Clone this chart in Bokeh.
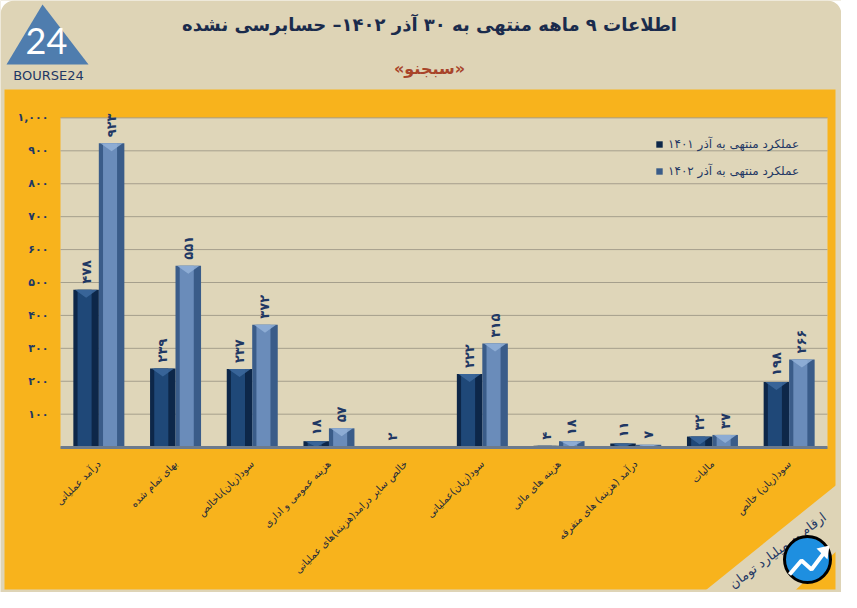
import math
from bokeh.plotting import figure
from bokeh.models import (Range1d, FixedTicker, ColumnDataSource, LabelSet, Legend, LegendItem)
from bokeh.core.properties import value
from bokeh.embed import file_html
from bokeh.resources import INLINE

# ---------------- data ----------------
categories = ["درآمد عملیاتی", "بهای تمام شده", "سود(زیان)ناخالص", "هزینه عمومی و اداری",
              "خالص سایر درامد(هزینه)های عملیاتی", "سود(زیان)عملیاتی", "هزینه های مالی",
              "درآمد (هزینه) های متفرقه", "مالیات", "سود(زیان) خالص"]
v1401 = [478, 239, 237, 18, 2, 222, 4, 11, 32, 198]
v1402 = [923, 551, 372, 57, 0, 315, 18, 7, 37, 266]
lbl1401 = ["۴۷۸", "۲۳۹", "۲۳۷", "۱۸", "۲", "۲۲۲", "۴", "۱۱", "۳۲", "۱۹۸"]
lbl1402 = ["۹۲۳", "۵۵۱", "۳۷۲", "۵۷", "", "۳۱۵", "۱۸", "۷", "۳۷", "۲۶۶"]
yticks = [100, 200, 300, 400, 500, 600, 700, 800, 900, 1000]
ytick_labels = ["۱۰۰", "۲۰۰", "۳۰۰", "۴۰۰", "۵۰۰", "۶۰۰", "۷۰۰", "۸۰۰", "۹۰۰", "۱,۰۰۰"]
series_names = ["عملکرد منتهی به آذر ۱۴۰۱", "عملکرد منتهی به آذر ۱۴۰۲"]
title_text = "اطلاعات ۹ ماهه منتهی به ۳۰ آذر ۱۴۰۲– حسابرسی نشده"
subtitle_text = "«سبجنو»"
unit_text = "ارقام به میلیارد تومان"

# ---------------- geometry / style ----------------
W, H = 841, 592
PL, PR = 60, 827          # plot-area left/right (canvas px)
PY0, PY1 = 446.6, 117.4   # canvas px of y=0 and y=1000
CW = (PR - PL) / len(categories)
SC = (PY0 - PY1) / 1000.0

BEIGE = "#DED4B6"
PLOT_BG = "#DFD6B9"
ORANGE = "#F8B31C"
NAVY = "#1F3864"
EDGE1, INNER1, CAP1 = "#0D2749", "#1F4878", "#3D6A9E"
EDGE2, INNER2, CAP2 = "#3A5C89", "#6A8CBA", "#93B1D8"
FONT = "DejaVu Sans"


def X(fx):
    return (fx - PL) / CW - 0.5


def Y(fy):
    return (PY0 - fy) / SC


n = len(categories)
xs = list(range(n))
lo, hi = -0.5, n - 0.5
off, bw = 0.166, 0.333

p = figure(x_range=Range1d(X(0), X(W)), y_range=Range1d(Y(H), Y(0)), width=W, height=H,
           output_backend="svg", toolbar_location=None, min_border=0,
           background_fill_color=BEIGE, border_fill_color=BEIGE, outline_line_color=None)
p.xgrid.visible = False
p.ygrid.visible = False

# rounded top corners of the card
R = 14
arc = [(R - R * math.cos(a * math.pi / 20), R - R * math.sin(a * math.pi / 20)) for a in range(11)]
p.patch(x=[X(0)] + [X(a) for a, _ in arc], y=[Y(0)] + [Y(b) for _, b in arc],
        fill_color="white", line_color=None)
p.patch(x=[X(W)] + [X(W - a) for a, _ in arc], y=[Y(0)] + [Y(b) for _, b in arc],
        fill_color="white", line_color=None)

# panels
p.quad(left=X(4), right=X(835), top=Y(89), bottom=Y(589), fill_color=ORANGE, line_color=None)
p.quad(left=lo, right=hi, top=yticks[-1], bottom=0, fill_color=PLOT_BG, line_color=None)
# grid lines
p.segment(x0=[lo] * len(yticks), x1=[hi] * len(yticks), y0=yticks, y1=yticks,
          line_color="#A59F8C", line_width=1)

src = ColumnDataSource(dict(x1=[i - off for i in xs], x2=[i + off for i in xs],
                            x1i=[i - off - 0.02 for i in xs], x2i=[i + off - 0.02 for i in xs],
                            v1=v1401, v2=v1402, l1=lbl1401, l2=lbl1402))
r1 = p.vbar(x="x1", top="v1", width=bw, source=src, fill_color=EDGE1, line_color=None)
p.vbar(x="x1i", top="v1", width=bw * 0.55, source=src, fill_color=INNER1, line_color=None)
r2 = p.vbar(x="x2", top="v2", width=bw, source=src, fill_color=EDGE2, line_color=None)
p.vbar(x="x2i", top="v2", width=bw * 0.55, source=src, fill_color=INNER2, line_color=None)

# bevel chevrons on bar tops
cap_depth = 8 / SC
for vals, sgn, col in ((v1401, -1, CAP1), (v1402, 1, CAP2)):
    cx_, cy_ = [], []
    for i, v in zip(xs, vals):
        if v <= 0:
            continue
        c = i + sgn * off
        d = min(cap_depth, v)
        cx_.append([c - bw / 2 + 0.02, c + bw / 2 - 0.02, c])
        cy_.append([v, v, v - d])
    p.patches(xs=cx_, ys=cy_, fill_color=col, fill_alpha=0.85, line_color=None)

for xc, yc, tc in (("x1", "v1", "l1"), ("x2", "v2", "l2")):
    p.add_layout(LabelSet(x=xc, y=yc, text=tc, source=src, angle=math.pi / 2,
                          text_align="left", text_baseline="middle", y_offset=6,
                          text_font=value(FONT), text_font_size="13px",
                          text_font_style="bold", text_color=NAVY))

# axes (drawn inside the canvas-wide frame)
p.yaxis.fixed_location = lo
p.yaxis.bounds = (0, yticks[-1])
p.yaxis.ticker = FixedTicker(ticks=yticks)
p.yaxis.major_label_overrides = {t: s for t, s in zip(yticks, ytick_labels)}
p.yaxis.axis_line_color = None
p.yaxis.major_tick_line_color = None
p.yaxis.major_tick_out = 0
p.yaxis.minor_tick_line_color = None
p.yaxis.major_label_text_font = FONT
p.yaxis.major_label_text_font_size = "11px"
p.yaxis.major_label_text_font_style = "bold"
p.yaxis.major_label_text_color = NAVY
p.yaxis.major_label_standoff = 12

p.xaxis.fixed_location = 0
p.xaxis.bounds = (lo, hi)
p.xaxis.ticker = FixedTicker(ticks=xs)
p.xaxis.major_label_overrides = {i: c for i, c in zip(xs, categories)}
p.xaxis.major_label_orientation = math.pi / 4
p.xaxis.axis_line_color = "#6C7A8C"
p.xaxis.axis_line_width = 3
p.xaxis.major_tick_line_color = None
p.xaxis.minor_tick_line_color = None
p.xaxis.major_label_text_font = FONT
p.xaxis.major_label_text_font_size = "10px"
p.xaxis.major_label_text_color = "#1E2A3A"
p.xaxis.major_label_standoff = 9

legend = Legend(items=[LegendItem(label=series_names[0], renderers=[r1]),
                       LegendItem(label=series_names[1], renderers=[r2])],
                location=(647, 406), background_fill_alpha=0, border_line_alpha=0,
                label_text_font=FONT, label_text_font_size="12px", label_text_color=NAVY,
                glyph_width=8, glyph_height=8, spacing=13, padding=8, margin=0)
p.add_layout(legend)

# ---------------- header ----------------
p.patch(x=[X(42), X(6), X(88)], y=[Y(4), Y(64), Y(64)], fill_color="#4F7DAE", line_color=None)
p.text(x=[X(46)], y=[Y(40)], text=["24"], text_font=value("Lato"), text_font_size="36px",
       text_color="white", text_align="center", text_baseline="middle")
p.text(x=[X(48)], y=[Y(75)], text=["BOURSE24"], text_font=value(FONT), text_font_size="13px",
       text_color=NAVY, text_align="center", text_baseline="middle")
p.text(x=[X(429)], y=[Y(24)], text=[title_text], text_font=value(FONT), text_font_size="18px",
       text_font_style="bold", text_color="#1A2B4C", text_align="center", text_baseline="middle")
p.text(x=[X(429)], y=[Y(68)], text=[subtitle_text], text_font=value(FONT), text_font_size="16px",
       text_font_style="bold", text_color="#A8442A", text_align="center", text_baseline="middle")

# ---------------- bottom-right band and badge ----------------
p.patch(x=[X(690), X(845), X(845), X(782)], y=[Y(602), Y(477), Y(542), Y(602)],
        fill_color=BEIGE, line_color=None)
p.text(x=[X(777)], y=[Y(550)], text=[unit_text], angle=0.64, text_font=value(FONT),
       text_font_size="13px", text_color=NAVY, text_align="center", text_baseline="middle")
p.scatter(x=[X(807)], y=[Y(559)], marker="circle", size=46, fill_color="#1E8FE0",
          line_color="black", line_width=3)
p.line(x=[X(789), X(801), X(811), X(823)], y=[Y(574), Y(560), Y(569), Y(553)],
       line_color="white", line_width=4)
p.patch(x=[X(829), X(816), X(827)], y=[Y(545), Y(548), Y(559)], fill_color="white", line_color=None)

open("out.html", "w").write(file_html(p, INLINE))
